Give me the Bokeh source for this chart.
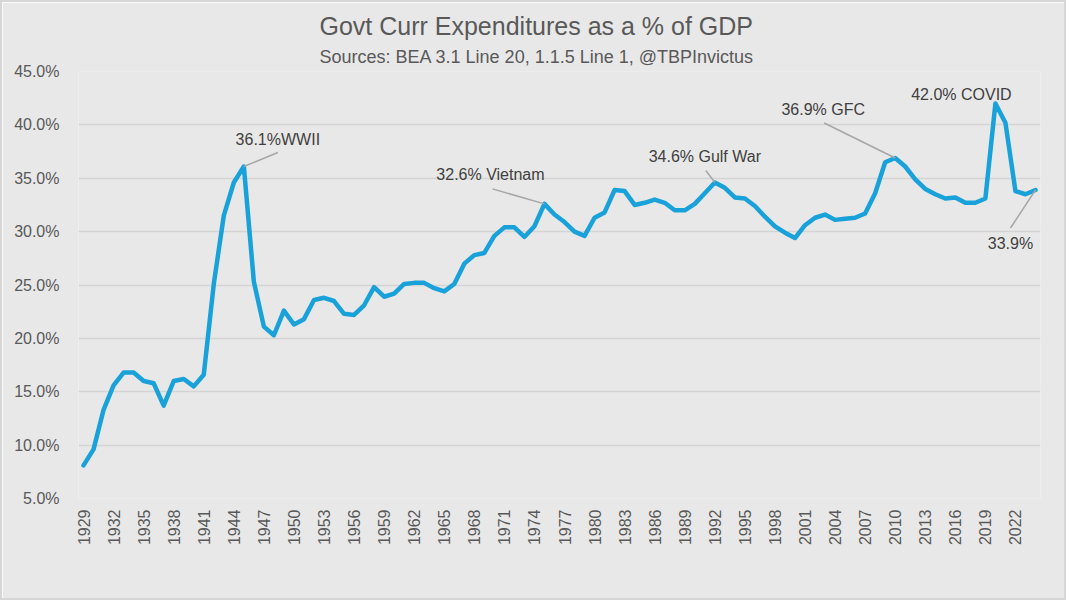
from bokeh.plotting import figure
from bokeh.models import Title, FixedTicker, PrintfTickFormatter, Range1d
from bokeh.core.properties import value
from bokeh.embed import file_html
from bokeh.resources import INLINE
import math

years = list(range(1929, 2025))
pct = [8.1, 9.6, 13.3, 15.6, 16.8, 16.8, 16.0, 15.8, 13.7, 16.0,
       16.2, 15.5, 16.6, 25.1, 31.5, 34.6, 36.1, 25.3, 21.1, 20.3,
       22.6, 21.3, 21.8, 23.6, 23.8, 23.5, 22.3, 22.2, 23.1, 24.8,
       23.9, 24.2, 25.1, 25.2, 25.2, 24.7, 24.4, 25.1, 27.0, 27.8,
       28.0, 29.6, 30.4, 30.4, 29.5, 30.5, 32.6, 31.6, 30.9, 30.0,
       29.6, 31.3, 31.8, 33.9, 33.8, 32.5, 32.7, 33.0, 32.7, 32.0,
       32.0, 32.6, 33.6, 34.6, 34.1, 33.2, 33.1, 32.4, 31.4, 30.5,
       29.9, 29.4, 30.6, 31.3, 31.6, 31.1, 31.2, 31.3, 31.7, 33.6,
       36.5, 36.9, 36.1, 34.9, 34.0, 33.5, 33.1, 33.2, 32.7, 32.7,
       33.1, 42.0, 40.2, 33.8, 33.5, 33.9]

tick_years = list(range(1929, 2023, 3))
y_ticks = [5, 10, 15, 20, 25, 30, 35, 40, 45]

ann_years = [1945, 1975, 1992, 2010, 2020, 2024]
ann_labels = ["36.1%WWII", "32.6% Vietnam", "34.6% Gulf War", "36.9% GFC", "42.0% COVID", "33.9%"]
# pixel offsets of label centres and leader-line ends, relative to the point
ann_text_dx = [34, -54, -10, -72, -34, -25]
ann_text_dy = [27, 29, 26, 48, 9, -54]
ann_lead_dx = [34, -52, -9, -71, None, -25]
ann_lead_dy = [14, 15, 12, 35, None, -38]

W, H = 1066, 600
BL, BR, BT, BB = 76, 28, 69, 104
FW, FH = W - BL - BR, H - BT - BB
x0, x1 = 1928.5, 2024.5
y0, y1 = 5, 45
ppx = FW / (x1 - x0)
ppy = FH / (y1 - y0)

BG = "#e8e8e8"
p = figure(width=W, height=H, output_backend="svg", toolbar_location=None,
           x_range=Range1d(x0, x1), y_range=Range1d(y0, y1),
           min_border_left=BL, min_border_right=BR, min_border_top=BT, min_border_bottom=BB,
           title=None)
p.background_fill_color = BG
p.border_fill_color = BG
p.outline_line_color = None
p.styles = {"border": "2px solid #d6d6d6"}

sub = Title(text="Sources: BEA 3.1 Line 20, 1.1.5 Line 1, @TBPInvictus", align="left",
            text_font="Liberation Sans", text_font_size="18px",
            text_color="#595959", text_font_style="normal", standoff=9, offset=241)
main = Title(text="Govt Curr Expenditures as a % of GDP", align="left",
             text_font="Liberation Sans", text_font_size="25px",
             text_color="#595959", text_font_style="normal", standoff=1, offset=241)
p.add_layout(sub, "above")
p.add_layout(main, "above")

p.xgrid.visible = False
p.ygrid.ticker = FixedTicker(ticks=y_ticks)
p.ygrid.grid_line_color = "#d4d4d4"
p.ygrid.grid_line_width = 1.5

p.yaxis.ticker = FixedTicker(ticks=y_ticks)
p.yaxis.formatter = PrintfTickFormatter(format="%.1f%%")
p.xaxis.ticker = FixedTicker(ticks=tick_years)
p.xaxis.major_label_orientation = math.pi / 2
for ax in (p.xaxis, p.yaxis):
    ax.axis_line_color = None
    ax.major_tick_line_color = None
    ax.minor_tick_line_color = None
    ax.major_label_text_font = "Liberation Sans"
    ax.major_label_text_font_size = "16px"
    ax.major_label_text_color = "#595959"
p.yaxis.major_label_standoff = 13
p.xaxis.major_label_standoff = 5

p.line(years, pct, line_color="#19a1da", line_width=4.5, line_join="round", line_cap="round")

# annotations
lx0, ly0, lx1, ly1 = [], [], [], []
tx, ty = [], []
for yr, tdx, tdy, ldx, ldy in zip(ann_years, ann_text_dx, ann_text_dy, ann_lead_dx, ann_lead_dy):
    v = pct[years.index(yr)]
    tx.append(yr + tdx / ppx)
    ty.append(v + tdy / ppy)
    if ldx is not None:
        lx0.append(yr); ly0.append(v)
        lx1.append(yr + ldx / ppx); ly1.append(v + ldy / ppy)
p.segment(lx0, ly0, lx1, ly1, line_color="#a6a6a6", line_width=1.5)
p.text(tx, ty, text=ann_labels, text_align="center", text_baseline="middle",
       text_font=value("Liberation Sans"), text_font_size="16px", text_color="#404040")

open("out.html", "w").write(file_html(p, INLINE))
